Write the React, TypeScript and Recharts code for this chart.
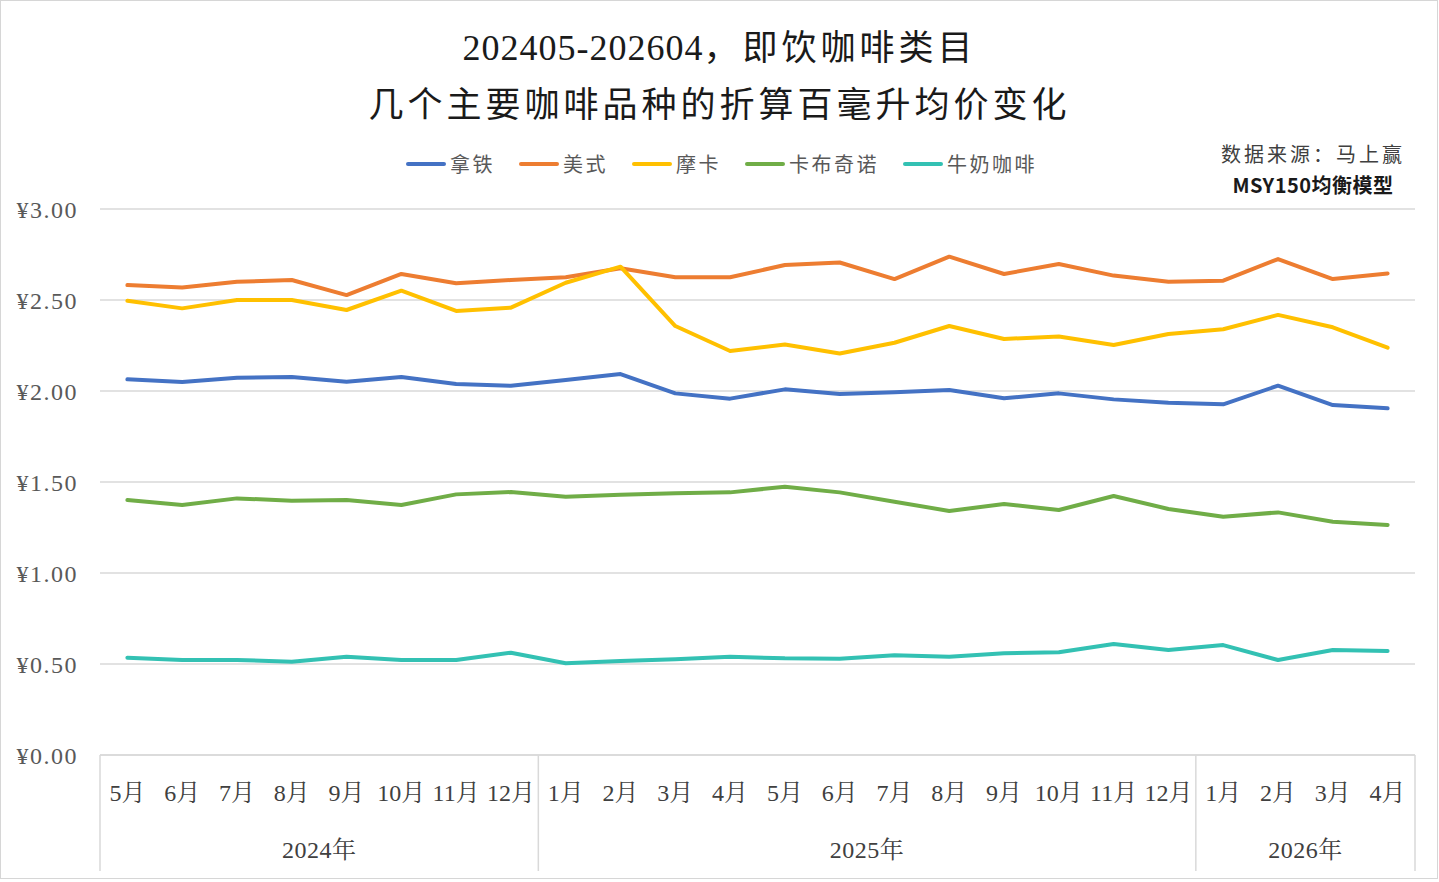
import React from 'react';
import { LineChart, Line, XAxis, YAxis, CartesianGrid } from 'recharts';

const W = 1439;
const H = 882;

// ---- data ----
const periods = [
  '2024-05', '2024-06', '2024-07', '2024-08', '2024-09', '2024-10', '2024-11', '2024-12',
  '2025-01', '2025-02', '2025-03', '2025-04', '2025-05', '2025-06', '2025-07', '2025-08',
  '2025-09', '2025-10', '2025-11', '2025-12', '2026-01', '2026-02', '2026-03', '2026-04',
];
const monthLabels = [
  '5月', '6月', '7月', '8月', '9月', '10月', '11月', '12月',
  '1月', '2月', '3月', '4月', '5月', '6月', '7月', '8月', '9月', '10月', '11月', '12月',
  '1月', '2月', '3月', '4月',
];
const yearGroups = [
  { label: '2024年', start: 0, end: 7 },
  { label: '2025年', start: 8, end: 19 },
  { label: '2026年', start: 20, end: 23 },
];
const yTicks = [0, 0.5, 1, 1.5, 2, 2.5, 3];

const latte = [2.064, 2.049, 2.073, 2.077, 2.051, 2.077, 2.038, 2.029, 2.06, 2.093, 1.987, 1.958, 2.009, 1.984, 1.993, 2.005, 1.96, 1.987, 1.954, 1.936, 1.927, 2.029, 1.923, 1.905];
const americano = [2.582, 2.569, 2.6, 2.61, 2.527, 2.643, 2.592, 2.61, 2.625, 2.674, 2.625, 2.625, 2.692, 2.706, 2.615, 2.738, 2.643, 2.698, 2.634, 2.6, 2.606, 2.725, 2.615, 2.646];
const mocha = [2.496, 2.454, 2.5, 2.5, 2.445, 2.551, 2.44, 2.458, 2.595, 2.683, 2.357, 2.22, 2.256, 2.206, 2.265, 2.357, 2.286, 2.299, 2.253, 2.313, 2.339, 2.418, 2.35, 2.238];
const cappuccino = [1.401, 1.374, 1.41, 1.397, 1.401, 1.374, 1.432, 1.445, 1.419, 1.43, 1.438, 1.443, 1.474, 1.443, 1.392, 1.341, 1.379, 1.346, 1.423, 1.352, 1.309, 1.333, 1.282, 1.264];
const milkCoffee = [0.535, 0.522, 0.522, 0.513, 0.54, 0.522, 0.522, 0.562, 0.504, 0.516, 0.526, 0.54, 0.531, 0.529, 0.548, 0.54, 0.559, 0.564, 0.61, 0.577, 0.604, 0.522, 0.577, 0.571];

const series = [
  { key: 'latte', name: '拿铁', color: '#4472C4', values: latte },
  { key: 'americano', name: '美式', color: '#ED7D31', values: americano },
  { key: 'mocha', name: '摩卡', color: '#FFC000', values: mocha },
  { key: 'cappuccino', name: '卡布奇诺', color: '#70AD47', values: cappuccino },
  { key: 'milk', name: '牛奶咖啡', color: '#33C1B3', values: milkCoffee },
];

const data = periods.map((p, i) => {
  const row: Record<string, string | number> = { period: p };
  series.forEach((s) => {
    row[s.key] = s.values[i];
  });
  return row;
});

// ---- layout ----
const MARGIN = { top: 209, right: 24, bottom: 0, left: 22 };
const Y_AXIS_W = 78;
const X_AXIS_H = 127;
const PLOT_W = W - MARGIN.left - MARGIN.right - Y_AXIS_W;

const SERIF = "'Liberation Serif', 'Noto Serif CJK SC', 'Noto Sans CJK SC', serif";
const CJK = "'Noto Sans CJK SC', 'Liberation Serif', sans-serif";
const GRID = '#d9d9d9';
const LABEL = '#404040';

const renderMonthTick = (props: any) => {
  const { x, y, payload, index } = props;
  const half = payload && typeof payload.offset === 'number' && payload.offset > 0
    ? payload.offset
    : PLOT_W / periods.length / 2;
  const parts: React.ReactNode[] = [];
  parts.push(
    <text
      key="m"
      x={x}
      y={y + 38}
      textAnchor="middle"
      dominantBaseline="central"
      fontFamily={SERIF}
      fontSize={24}
      fill={LABEL}
    >
      {monthLabels[index]}
    </text>
  );
  yearGroups.forEach((g, gi) => {
    if (index === g.start) {
      if (g.start === 0) {
        parts.push(<line key={'l' + gi} x1={x - half} x2={x - half} y1={y} y2={y + 116} stroke={GRID} strokeWidth={1.5} />);
      }
      const n = g.end - g.start + 1;
      parts.push(
        <text
          key={'y' + gi}
          x={x - half + n * half}
          y={y + 95}
          textAnchor="middle"
          dominantBaseline="central"
          fontFamily={SERIF}
          fontSize={24}
          letterSpacing={0.5}
          fill={LABEL}
        >
          {g.label}
        </text>
      );
    }
    if (index === g.end) {
      parts.push(<line key={'r' + gi} x1={x + half} x2={x + half} y1={y} y2={y + 116} stroke={GRID} strokeWidth={1.5} />);
    }
  });
  return <g>{parts}</g>;
};

const Legend = () => (
  <div
    style={{
      position: 'absolute',
      left: 0,
      top: 150,
      width: W,
      height: 28,
      display: 'flex',
      justifyContent: 'center',
      alignItems: 'center',
      gap: 24,
      paddingLeft: 4,
      boxSizing: 'border-box',
    }}
  >
    {series.map((s) => (
      <div key={s.key} style={{ display: 'flex', alignItems: 'center', gap: 4 }}>
        <div style={{ width: 40, height: 4, borderRadius: 2, background: s.color }} />
        <span style={{ fontFamily: CJK, fontSize: 20, letterSpacing: 2.5, color: '#595959', lineHeight: '28px' }}>
          {s.name}
        </span>
      </div>
    ))}
  </div>
);

export default function App() {
  return (
    <div
      style={{
        position: 'absolute',
        left: 0,
        top: 0,
        width: W,
        height: H,
        background: '#ffffff',
        overflow: 'hidden',
      }}
    >
      <div
        style={{
          position: 'absolute',
          left: 0,
          top: 0,
          width: 1438,
          height: 879,
          border: '1.5px solid #d6d6d6',
          boxSizing: 'border-box',
        }}
      />
      <div
        style={{
          position: 'absolute',
          left: 0,
          top: 22,
          width: W,
          textAlign: 'center',
          color: '#1a1a1a',
          lineHeight: '46px',
          whiteSpace: 'nowrap',
        }}
      >
        <span style={{ fontFamily: SERIF, fontSize: 36, letterSpacing: 1 }}>202405-202604</span>
        <span style={{ fontFamily: CJK, fontSize: 35, letterSpacing: 4 }}>，即饮咖啡类目</span>
      </div>
      <div
        style={{
          position: 'absolute',
          left: 0,
          top: 79,
          width: W,
          textAlign: 'center',
          color: '#1a1a1a',
          lineHeight: '46px',
          whiteSpace: 'nowrap',
          fontFamily: CJK,
          fontSize: 35,
          letterSpacing: 4,
        }}
      >
        几个主要咖啡品种的折算百毫升均价变化
      </div>
      <div
        style={{
          position: 'absolute',
          left: 1213,
          top: 139,
          width: 200,
          textAlign: 'center',
          color: '#404040',
          fontFamily: CJK,
          whiteSpace: 'nowrap',
        }}
      >
        <div style={{ fontSize: 20, letterSpacing: 3, lineHeight: '30px' }}>数据来源：马上赢</div>
        <div style={{ fontSize: 20, letterSpacing: 0.5, lineHeight: '32px', fontWeight: 700, color: '#1a1a1a' }}>
          MSY150均衡模型
        </div>
      </div>
      <Legend />
      <div style={{ position: 'absolute', left: 0, top: 0 }}>
        <LineChart width={W} height={H} data={data} margin={MARGIN}>
          <CartesianGrid vertical={false} stroke={GRID} strokeWidth={1.5} />
          <XAxis
            dataKey="period"
            scale="band"
            interval={0}
            height={X_AXIS_H}
            tickLine={false}
            tickSize={0}
            tickMargin={0}
            axisLine={{ stroke: GRID, strokeWidth: 1.5 }}
            tick={renderMonthTick}
          />
          <YAxis
            type="number"
            domain={[0, 3]}
            ticks={yTicks}
            interval={0}
            width={Y_AXIS_W}
            tickLine={false}
            axisLine={false}
            tickSize={0}
            tickMargin={22}
            tickFormatter={(v: number) => '¥' + v.toFixed(2)}
            tick={{ fontFamily: SERIF, fontSize: 24, fill: '#595959', letterSpacing: 1.5 }}
          />
          {series.map((s) => (
            <Line
              key={s.key}
              dataKey={s.key}
              name={s.name}
              type="linear"
              stroke={s.color}
              strokeWidth={4}
              strokeLinejoin="round"
              strokeLinecap="round"
              dot={false}
              activeDot={false}
              isAnimationActive={false}
            />
          ))}
        </LineChart>
      </div>
    </div>
  );
}
